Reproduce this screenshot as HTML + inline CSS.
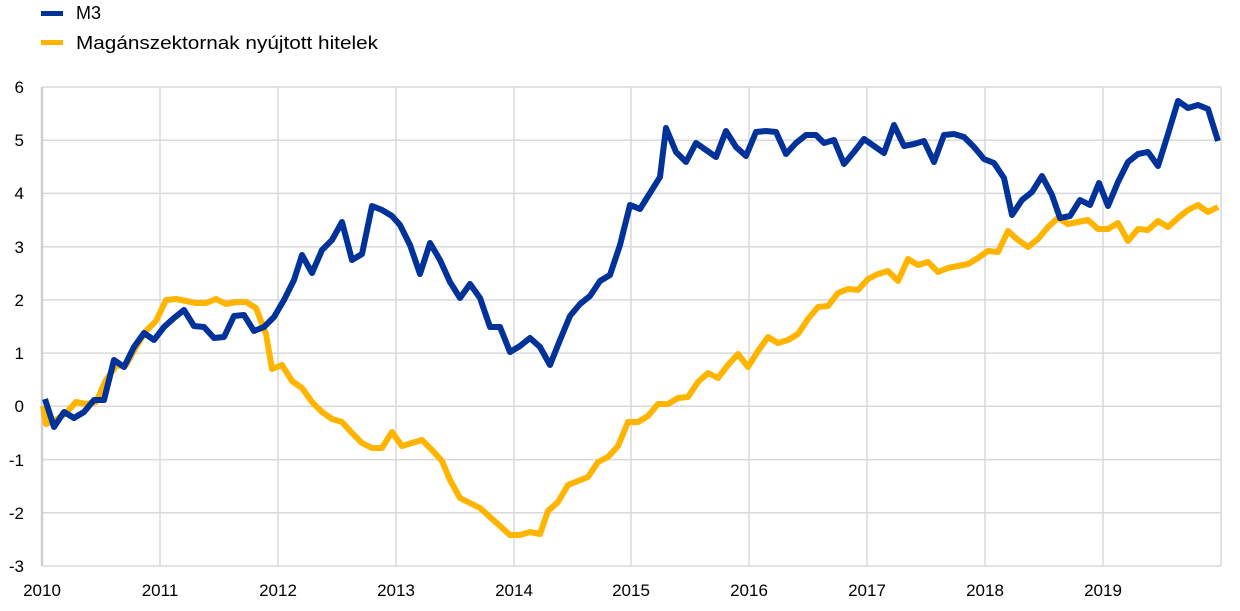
<!DOCTYPE html>
<html><head><meta charset="utf-8"><style>
body{margin:0;background:#fff;}
svg{display:block;font-family:"Liberation Sans",sans-serif;}
</style></head><body>
<svg width="1240" height="611" viewBox="0 0 1240 611">
<g stroke="#d9d9d9" stroke-width="1.5">
<line x1="42" x2="1221" y1="87" y2="87"/><line x1="42" x2="1221" y1="140.2" y2="140.2"/><line x1="42" x2="1221" y1="193.4" y2="193.4"/><line x1="42" x2="1221" y1="246.7" y2="246.7"/><line x1="42" x2="1221" y1="299.9" y2="299.9"/><line x1="42" x2="1221" y1="353.1" y2="353.1"/><line x1="42" x2="1221" y1="406.3" y2="406.3"/><line x1="42" x2="1221" y1="459.6" y2="459.6"/><line x1="42" x2="1221" y1="512.8" y2="512.8"/><line x1="42" x2="1221" y1="566" y2="566"/>
<line x1="160" x2="160" y1="87" y2="566"/><line x1="278" x2="278" y1="87" y2="566"/><line x1="396" x2="396" y1="87" y2="566"/><line x1="514" x2="514" y1="87" y2="566"/><line x1="631" x2="631" y1="87" y2="566"/><line x1="749" x2="749" y1="87" y2="566"/><line x1="867" x2="867" y1="87" y2="566"/><line x1="985" x2="985" y1="87" y2="566"/><line x1="1103" x2="1103" y1="87" y2="566"/><line x1="1221" x2="1221" y1="87" y2="566"/>
</g>
<line x1="42" x2="42" y1="87" y2="566" stroke="#d0d0d0" stroke-width="2.5"/>
<g font-size="17" fill="#000" text-anchor="end">
<text x="24" y="93">6</text><text x="24" y="146">5</text><text x="24" y="199">4</text><text x="24" y="253">3</text><text x="24" y="306">2</text><text x="24" y="359">1</text><text x="24" y="412">0</text><text x="24" y="466">-1</text><text x="24" y="519">-2</text><text x="24" y="572">-3</text>
</g>
<g font-size="17" fill="#000" text-anchor="middle">
<text x="42" y="596">2010</text><text x="160" y="596">2011</text><text x="278" y="596">2012</text><text x="396" y="596">2013</text><text x="514" y="596">2014</text><text x="631" y="596">2015</text><text x="749" y="596">2016</text><text x="867" y="596">2017</text><text x="985" y="596">2018</text><text x="1103" y="596">2019</text>
</g>
<polyline fill="none" stroke="#ffb400" stroke-width="6" stroke-linejoin="round" points="43,406 46,424 56,420 66,413 76,402 86,404 96,402 106,380 116,366 126,365 136,347 146,331 156,321 166,300 176,299 186,301 196,303 206,303 216,299 226,304 236,302 246,302 256,308 266,334 272,369 282,365 292,381 302,388 312,402 322,412 332,419 342,422 352,433 362,443 372,448 382,448 392,432 402,446 412,443 422,440 432,450 442,461 450,480 460,498 470,503 480,508 490,517 500,526 510,535 520,535 530,532 540,534 548,511 558,502 568,485 578,481 588,477 598,462 608,457 618,446 628,422 638,422 648,416 658,404 668,404 678,398 688,397 698,382 708,373 718,378 728,365 738,354 748,367 758,351 768,337 778,343 788,340 798,334 808,319 818,307 828,306 838,293 848,289 858,290 868,279 878,274 888,271 898,281 908,259 918,265 928,262 938,272 948,268 958,266 968,264 978,258 988,251 998,252 1008,231 1018,240 1028,247 1038,239 1048,227 1058,218 1068,224 1078,222 1088,220 1098,229 1108,229 1118,223 1128,241 1138,229 1148,230 1158,221 1168,227 1178,218 1188,210 1198,205 1208,212 1218,207"/>
<polyline fill="none" stroke="#003299" stroke-width="6" stroke-linejoin="round" points="45,399 54,427 64,412 74,418 84,412 94,400 104,400 114,360 124,367 134,347 144,333 154,340 164,327 174,318 184,310 194,326 204,327 214,338 224,337 234,316 244,315 254,331 264,327 274,317 284,300 294,280 302,255 312,273 322,250 332,240 342,222 352,260 362,254 372,206 382,210 392,216 400,225 410,245 420,274 430,243 440,260 450,282 460,298 470,284 480,298 490,327 500,327 510,352 520,346 530,338 540,347 550,365 560,340 570,316 580,304 590,296 600,281 610,275 620,245 630,205 640,209 650,193 660,177 666,128 676,152 686,162 696,143 706,150 716,157 726,131 736,147 746,156 756,132 766,131 776,132 786,154 796,143 806,135 816,135 824,143 834,140 844,164 854,152 864,139 874,146 884,153 894,125 904,146 914,144 924,141 934,162 944,135 954,134 964,137 974,147 984,159 994,163 1004,178 1012,215 1022,200 1032,192 1042,176 1052,195 1060,218 1070,216 1080,200 1090,205 1099,183 1108,206 1118,182 1128,162 1138,154 1148,152 1158,166 1168,134 1178,101 1188,108 1198,105 1208,109 1218,141"/>
<rect x="41" y="11" width="22" height="5" fill="#003299"/>
<text x="76" y="19" font-size="18">M3</text>
<rect x="41" y="40" width="22" height="5" fill="#ffb400"/>
<text x="76" y="49" font-size="18" textLength="302" lengthAdjust="spacingAndGlyphs">Magánszektornak nyújtott hitelek</text>
</svg>
</body></html>
